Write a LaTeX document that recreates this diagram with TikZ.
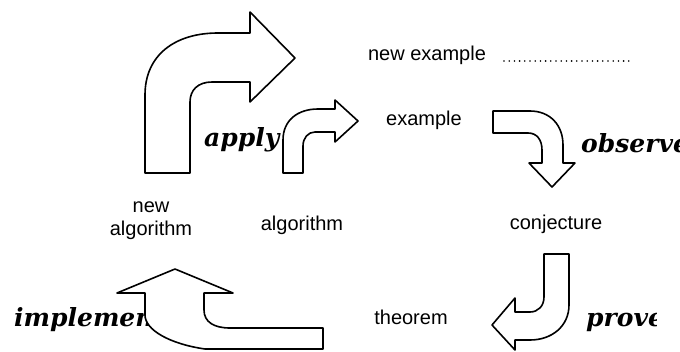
\documentclass[tikz,border=0pt]{standalone}
\usepackage{fontspec}
\setmainfont{Liberation Sans}
\newfontfamily\slabfont{DejaVu Serif}
\begin{document}
\begin{tikzpicture}[x=1pt,y=-1pt,
  lbl/.style={font=\fontsize{20}{23}\selectfont, inner sep=0pt, align=center},
  verb/.style={font=\slabfont\bfseries\itshape\fontsize{25}{27}\selectfont, inner sep=0pt, anchor=west},
  bigarrow/.style={draw=black, fill=white, line width=1.6pt, line join=round}]
\useasboundingbox (0,0) rectangle (680,351);
% labels
\node[lbl] (newex) at (427,55) {new example};
\coordinate (dotsA) at (504,61);
\coordinate (dotsB) at (633,61);
\draw[line width=1.8pt, dash pattern=on 0pt off 5.2pt, line cap=round] (dotsA) -- (dotsB);
\node[lbl] (ex) at (424,120) {example};
\node[lbl] (newalg) at (151,221) {new\\algorithm};
\node[lbl] (alg) at (302,225) {algorithm};
\node[lbl] (conj) at (556,224) {conjecture};
\node[lbl] (thm) at (411,317) {theorem};
% verbs
\node[verb] (apply) at (204,140) {apply};
\node[verb] (observe) at (581,143) {observe};
\begin{scope}
\clip (560,290) rectangle (656,351);
\node[verb] (prove) at (586,322) {prove};
\end{scope}
\node[verb] (implement) at (14,320) {implement};
% big apply arrow
\draw[bigarrow] (145,173) -- (145,95) .. controls (145,55) and (175,33) .. (218,33)
  -- (250,33) -- (250,12) -- (295,58) -- (250,102) -- (250,82) -- (212,82)
  .. controls (198,82) and (190,90) .. (190,102) -- (190,173) -- cycle;
% small apply arrow
\draw[bigarrow] (283,173) -- (283,140) .. controls (283,120) and (298,109) .. (318,109)
  -- (335,109) -- (335,100) -- (358,121) -- (335,142) -- (335,132) -- (315,132)
  .. controls (308,132) and (303,138) .. (303,146) -- (303,173) -- cycle;
% observe arrow
\draw[bigarrow] (493,111) -- (530,111) .. controls (550,111) and (563,125) .. (563,145)
  -- (563,163) -- (575,163) -- (552,187) -- (529,163) -- (542,163) -- (542,150)
  .. controls (542,140) and (537,133) .. (528,133) -- (493,133) -- cycle;
% prove arrow
\draw[bigarrow] (544,254) -- (569,254) -- (569,305) .. controls (569,326) and (552,340) .. (530,340)
  -- (515,340) -- (515,350) -- (492,325) -- (515,298) -- (515,312) -- (530,312)
  .. controls (538,312) and (544,306) .. (544,297) -- cycle;
% implement arrow
\draw[bigarrow] (175,269) -- (233,293) -- (204,293) -- (204,310)
  .. controls (204,322) and (214,328) .. (230,328) -- (323,328) -- (323,349)
  -- (205,349) .. controls (170,344) and (145,330) .. (145,315) -- (145,293)
  -- (117,293) -- cycle;
\end{tikzpicture}
\end{document}
